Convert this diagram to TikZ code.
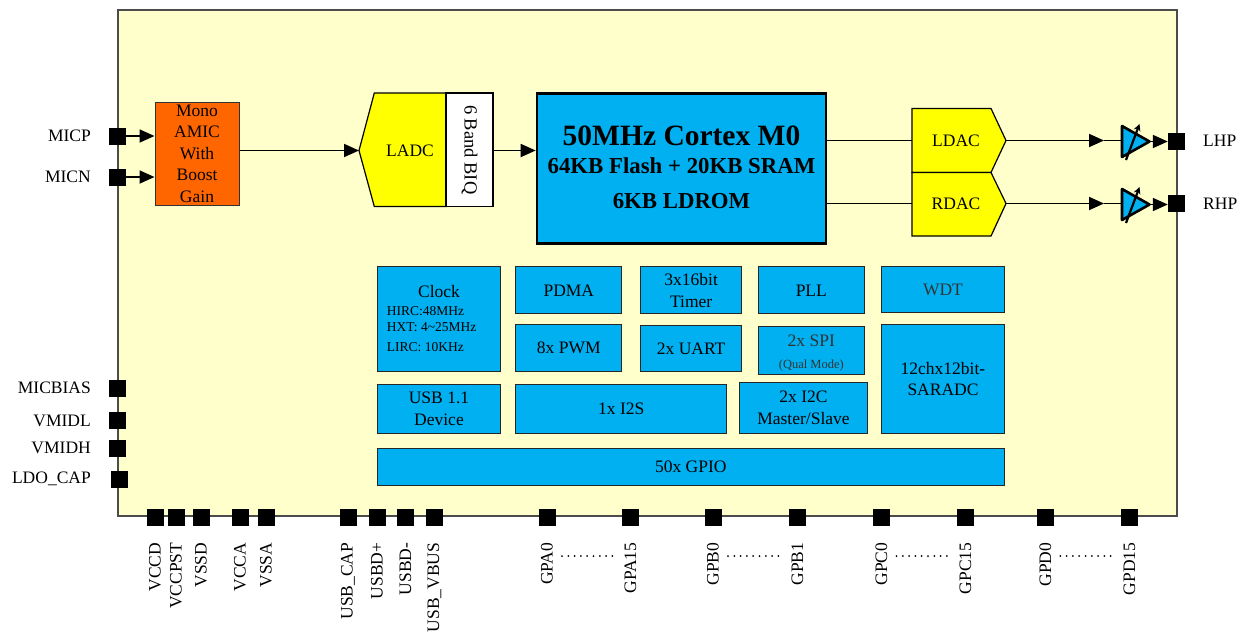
\documentclass[tikz,border=0pt]{standalone}
\usepackage{fontspec}
\setmainfont{Liberation Serif}
\usetikzlibrary{arrows.meta}
\definecolor{chipbg}{HTML}{FFFFCC}
\definecolor{amicc}{HTML}{FF6600}
\definecolor{cyanb}{HTML}{00B0F0}
\definecolor{dacy}{HTML}{FFFF00}
\begin{document}
\begin{tikzpicture}[x=1pt,y=-1pt,
  lbl/.style={font=\fontsize{17.5}{21}\selectfont, inner sep=0},
  pin/.style={fill=black, minimum size=17pt, inner sep=0},
  blk/.style={draw=black!85, line width=1pt, fill=cyanb, inner sep=0, align=center, font=\fontsize{17.5}{21.5}\selectfont},
  small/.style={font=\fontsize{13.5}{16}\selectfont, inner sep=0},
  conn/.style={line width=1.8pt},
  arr/.style={conn, -{Triangle[length=15pt,width=13pt]}},
  dots/.style={line width=2pt, dash pattern=on 0pt off 6.3pt, line cap=round},
  amp/.style={fill=cyanb, line width=2.6pt, line join=round},
  dac/.style={fill=dacy, draw=black, line width=1.2pt, line join=miter}
]
\useasboundingbox (0,0) rectangle (1242,633);
% chip body
\draw[fill=chipbg, draw=black!70, line width=1.2pt] (118,10) rectangle (1177,516);

% ---------- AMIC ----------
\node[draw=black!80, line width=1pt, fill=amicc, minimum width=84pt, minimum height=103pt, inner sep=0,
      align=center, font=\fontsize{17.5}{21.5}\selectfont] (amic) at (197,153.8) {Mono\\AMIC\\With\\Boost\\Gain};

% left pins
\node[pin] (micp) at (117,136) {};
\node[pin] (micn) at (117,177) {};
\node[pin] (micbias) at (117,388) {};
\node[pin] (vmidl) at (117,420.5) {};
\node[pin] (vmidh) at (117,448) {};
\node[pin] (ldocap) at (119.5,479) {};
\node[lbl, anchor=east] (lmicp) at (91,136) {MICP};
\node[lbl, anchor=east] (lmicn) at (91,177) {MICN};
\node[lbl, anchor=east] (lmicbias) at (91,388) {MICBIAS};
\node[lbl, anchor=east] (lvmidl) at (91,420.5) {VMIDL};
\node[lbl, anchor=east] (lvmidh) at (91,448) {VMIDH};
\node[lbl, anchor=east] (lldocap) at (91,479) {LDO\_CAP};
\draw[arr] (micp.east) -- (amic.west |- micp);
\draw[arr] (micn.east) -- (amic.west |- micn);

% ---------- LADC + BIQ ----------
\coordinate (ladctip) at (359,150.5);
\draw[dac] (ladctip) -- (374.3,93) -- (446,93) -- (446,206.5) -- (374.3,206.5) -- cycle;
\node[lbl] (ladc) at (410,150.5) {LADC};
\node[draw=black, line width=1.2pt, fill=white, minimum width=47pt, minimum height=113.5pt, inner sep=0] (biq) at (469.5,149.75) {};
\node[lbl, rotate=-90, font=\fontsize{18.5}{21}\selectfont] (biqt) at (469.5,149.75) {6 Band BIQ};
\draw[arr] (amic.east |- ladctip) -- (ladctip);

% ---------- CPU ----------
\node[draw=black, line width=2.6pt, fill=cyanb, minimum width=289pt, minimum height=150pt, inner sep=0] (cpu) at (681.5,168.3) {};
\node[inner sep=0, anchor=base, font=\fontsize{29.5}{32}\selectfont\bfseries] (cpu1) at (681.5,145) {50MHz Cortex M0};
\node[inner sep=0, anchor=base, font=\fontsize{22.8}{26}\selectfont\bfseries] (cpu2) at (681.5,173.3) {64KB Flash + 20KB SRAM};
\node[inner sep=0, anchor=base, font=\fontsize{22.8}{26}\selectfont\bfseries] (cpu3) at (681.5,208) {6KB LDROM};
\draw[arr] (biq.east |- ladctip) -- (cpu.west |- ladctip);

% ---------- DACs ----------
\coordinate (ldactip) at (1006,140.5);
\coordinate (rdactip) at (1006,203.5);
\draw[dac] (912,108.5) -- (991,108.5) -- (ldactip) -- (991,172.5) -- (912,172.5) -- cycle;
\draw[dac] (912,172.5) -- (991,172.5) -- (rdactip) -- (991,236) -- (912,236) -- cycle;
\node[lbl] (ldac) at (956,140.5) {LDAC};
\node[lbl] (rdac) at (956,203.5) {RDAC};
\draw[conn] (cpu.east |- ldactip) -- (912,140.5);
\draw[conn] (cpu.east |- rdactip) -- (912,203.5);

% ---------- headphone outputs ----------
\node[pin] (lhp) at (1176.5,141) {};
\node[pin] (rhp) at (1176.5,203.5) {};
\node[lbl, anchor=west] (llhp) at (1203,141) {LHP};
\node[lbl, anchor=west] (lrhp) at (1203,204) {RHP};
\foreach \n/\y in {L/140.5,R/203.5}{
  \coordinate (mid\n) at (1104,\y);
  \coordinate (ampw\n) at (1122,\y);
  \coordinate (ampt\n) at (1149.5,\y+1);
  \draw[amp] (1122,\y-14.5) -- (ampt\n) -- (1122,\y+16.5) -- cycle;
  \draw[line width=2.2pt, -{Stealth[length=7pt,width=7pt]}] (1126,\y+19.5) -- (1139.5,\y-16.5);
}
\draw[arr] (ldactip) -- (midL);
\draw[conn] (midL) -- (ampwL);
\draw[arr] (amptL) -- (lhp.west |- amptL);
\draw[arr] (rdactip) -- (midR);
\draw[conn] (midR) -- (ampwR);
\draw[arr] (amptR) -- (rhp.west |- amptR);

% ---------- peripheral blocks ----------
\node[blk, minimum width=123.4pt, minimum height=105pt] (clock) at (439,319.2) {};
\node[inner sep=0, anchor=base, font=\fontsize{17.5}{21}\selectfont] (clockt) at (439,297.3) {Clock};
\node[small, anchor=base west] (hirc) at (386.7,315.7) {HIRC:48MHz};
\node[small, anchor=base west] (hxt) at (386.7,331.7) {HXT: 4\textasciitilde25MHz};
\node[small, anchor=base west] (lirc) at (386.7,351.7) {LIRC: 10KHz};

\node[blk, minimum width=105.7pt, minimum height=47.3pt] (pdma) at (568.8,290.3) {PDMA};
\node[blk, minimum width=101pt, minimum height=47.3pt] (timer) at (691.2,290.3) {3x16bit\\Timer};
\node[blk, minimum width=106pt, minimum height=47.3pt] (pll) at (811.3,290.3) {PLL};
\node[blk, minimum width=122.6pt, minimum height=45.6pt, text=black!80] (wdt) at (943,289.5) {WDT};

\node[blk, minimum width=105.7pt, minimum height=47.4pt] (pwm) at (568.8,348) {8x PWM};
\node[blk, minimum width=101pt, minimum height=45.7pt] (uart) at (691.2,348.8) {2x UART};
\node[blk, minimum width=106pt, minimum height=48pt] (spi) at (811.3,350) {};
\node[inner sep=0, anchor=base, font=\fontsize{17.5}{21}\selectfont, text=black!80] (spit) at (811.3,346) {2x SPI};
\node[inner sep=0, anchor=base, font=\fontsize{12.5}{15}\selectfont, text=black!80] (spiq) at (811.3,368.3) {(Qual Mode)};
\node[blk, minimum width=122.6pt, minimum height=109pt] (saradc) at (943,378.8) {12chx12bit-\\SARADC};

\node[blk, minimum width=123.4pt, minimum height=49.3pt] (usb) at (439,408.7) {USB 1.1\\Device};
\node[blk, minimum width=210.7pt, minimum height=49.3pt] (i2s) at (621.3,408.7) {1x I2S};
\node[blk, minimum width=128.4pt, minimum height=51pt] (i2c) at (803.5,407.8) {2x I2C\\Master/Slave};

\node[blk, minimum width=627.5pt, minimum height=37pt] (gpio) at (690.8,466.5) {50x GPIO};

% ---------- bottom pins ----------
\foreach \x/\nm/\t in {155/vccd/VCCD,176/vccpst/VCCPST,201/vssd/VSSD,240/vcca/VCCA,266/vssa/VSSA,
  348/usbcap/USB\_CAP,377/usbdp/USBD+,405.5/usbdm/USBD-,434.5/usbvbus/USB\_VBUS,
  547/gpa0/GPA0,630.3/gpa15/GPA15,713/gpb0/GPB0,797.5/gpb1/GPB1,
  881.5/gpc0/GPC0,965.3/gpc15/GPC15,1045.3/gpd0/GPD0,1129.3/gpd15/GPD15}{
  \node[pin] (p\nm) at (\x,517) {};
  \node[lbl, rotate=90, anchor=east] (l\nm) at (\x,542.5) {\t};
}
\foreach \a/\b in {gpa0/gpa15,gpb0/gpb1,gpc0/gpc15,gpd0/gpd15}{
  \coordinate (s\a) at ([xshift=15pt]p\a.center |- 0,556);
  \coordinate (e\a) at ([xshift=-17pt]p\b.center |- 0,556);
  \draw[dots] (s\a) -- (e\a);
}
\end{tikzpicture}
\end{document}
